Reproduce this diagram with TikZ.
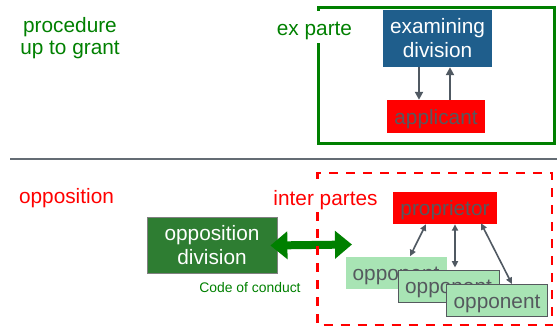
\documentclass[tikz,border=0pt]{standalone}
\usepackage{fontspec}
\setmainfont{Liberation Sans}
\usetikzlibrary{arrows.meta}

\definecolor{leafgreen}{RGB}{0,128,0}
\definecolor{examblue}{RGB}{31,94,140}
\definecolor{oppdark}{RGB}{46,125,50}
\definecolor{opplight}{RGB}{168,228,180}
\definecolor{inkgray}{RGB}{85,89,94}
\definecolor{linkgray}{RGB}{80,89,98}
\definecolor{rulegray}{RGB}{100,108,116}

\tikzset{
  big/.style={font=\fontsize{20.8}{24}\selectfont},
  box/.style={rectangle, inner sep=0pt, big, align=center},
  oneline/.style={text height=16.2pt, text depth=1.2pt},
  redbox/.style={box, oneline, fill=red, text=inkgray},
  oppbox/.style={box, oneline, fill=opplight, text=inkgray, minimum width=101pt, minimum height=32pt},
  link/.style={draw=linkgray, line width=2.4pt, -{Triangle[length=8pt,width=8pt]}},
  duallink/.style={draw=linkgray, line width=1.6pt,
    {Triangle[length=6.5pt,width=6pt]}-{Triangle[length=6.5pt,width=6pt]}},
}

\begin{document}
\begin{tikzpicture}[x=1pt, y=-1pt]
\useasboundingbox (0,0) rectangle (557,327);

% ---- upper part: procedure up to grant ----
\node[big, text=leafgreen, align=center, font=\fontsize{20.8}{22}\selectfont] (proc) at (70,38) {procedure\\up to grant};

% ex parte frame, left side interrupted by its label
\draw[leafgreen, line width=3pt, line join=miter]
  (318,43) -- (318,143) -- (554.3,143) -- (554.3,7.5) -- (318,7.5) -- (318,11);
\node[big, text=leafgreen, anchor=base] (expt) at (314.5,35) {ex parte};

\node[box, fill=examblue, text=white, minimum width=109pt, minimum height=57pt] (exam) at (437.5,38.5) {examining\\division};
\node[redbox, minimum width=98pt, minimum height=33pt] (appl) at (436,116.5) {applicant};

\draw[link] ([xshift=-18.5pt]exam.south) -- ([xshift=-17pt]appl.north);
\draw[link] ([xshift=14pt]appl.north) -- ([xshift=12.5pt]exam.south);

% separator
\draw[rulegray, line width=1.3pt] (10,159) -- (557,159);

% ---- lower part: opposition ----
\node[big, text=red, anchor=base] (oppo) at (66.5,203) {opposition};

\node[box, fill=oppdark, draw=gray, line width=0.8pt, text=white,
      minimum width=130pt, minimum height=56pt] (opdiv) at (212,245) {opposition\\division};
\node[text=leafgreen, font=\fontsize{13.9}{16}\selectfont, anchor=base] (code) at (250,292) {Code of conduct};

\coordinate (partyside) at (352,244.5);
\draw[leafgreen, line width=8pt,
  {Triangle[length=17pt,width=27pt]}-{Triangle[length=17pt,width=27pt]}]
  ([xshift=-7pt,yshift=-0.5pt]opdiv.east) -- (partyside);

% inter partes frame, left side interrupted by its label
\draw[red, line width=2.5pt, dash pattern=on 9pt off 8pt]
  (317.5,212) -- (317.5,325) -- (552,325) -- (552,173) -- (317.5,173) -- (317.5,184);
\node[big, text=red, anchor=base] (inter) at (325.5,205) {inter partes};

\node[redbox, minimum width=104pt, minimum height=32pt] (prop) at (445,208) {proprietor};

\node[oppbox] (opp1) at (396,272.5) {opponent};
\node[oppbox, draw=inkgray, line width=0.8pt] (opp2) at (448.5,286) {opponent};
\node[oppbox, draw=inkgray, line width=0.8pt] (opp3) at (497,300.5) {opponent};

\draw[duallink] ([xshift=-19pt]prop.south) -- ([xshift=14pt]opp1.north);
\draw[duallink] ([xshift=10pt]prop.south) -- ([xshift=6.5pt,yshift=2pt]opp2.north);
\draw[duallink] ([xshift=36pt,yshift=1pt]prop.south) -- ([xshift=15pt]opp3.north);
\end{tikzpicture}
\end{document}
